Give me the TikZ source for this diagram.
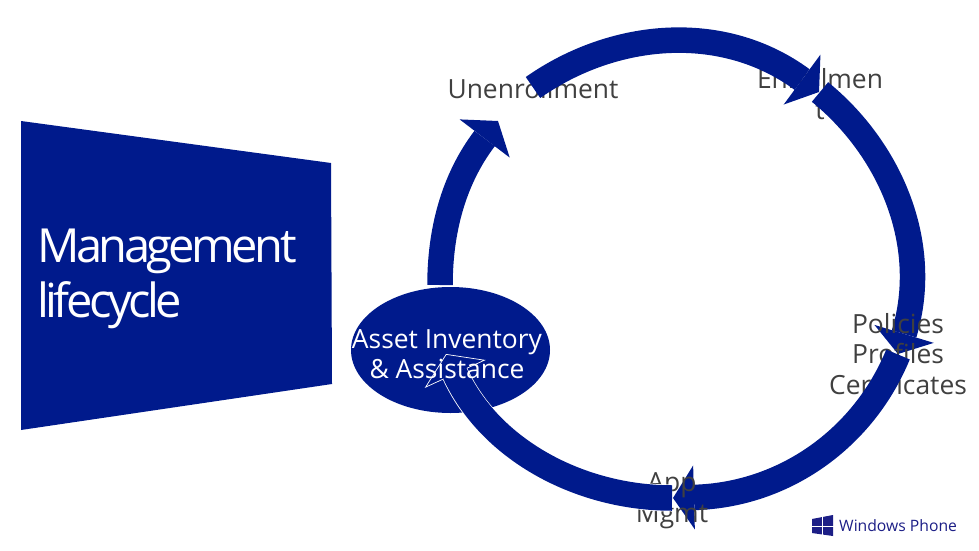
\documentclass[tikz,border=0pt]{standalone}
\usepackage{fontspec}
\setmainfont{Open Sans}
\newfontfamily\titlefont[LetterSpace=-7.5]{Open Sans}
\usetikzlibrary{arrows.meta,shapes.geometric}
\definecolor{navyblock}{HTML}{001A8C}
\definecolor{labelgray}{HTML}{404040}
\definecolor{logoblue}{HTML}{1C1E86}
\tikzset{
  lbl/.style={inner sep=0pt,text=labelgray,font=\fontsize{26.4}{30.5}\selectfont,align=center},
  ringarrow/.style={draw=navyblock,line width=25.5pt,line cap=butt},
}
\newcommand{\ringtip}[2]{-{Triangle[length=#1pt,width=#2pt,color=navyblock,fill=navyblock,line width=0pt]}}
\begin{document}
\begin{tikzpicture}[x=1pt,y=-1pt]
\useasboundingbox (0,0) rectangle (979,551);
% title panel
\fill[navyblock] (21,121) -- (331,163) -- (332,384) -- (21,430) -- cycle;
\node[anchor=west,inner sep=0pt,text=white,align=left,font=\titlefont\fontsize{47}{55}\selectfont] (title) at (37,278.5) {Management\\lifecycle};
% free ends of the ring arrows
\coordinate (e1a) at (533,87.5);
\coordinate (e1b) at (819,92);
\coordinate (e2a) at (820,92);
\coordinate (e2b) at (898,354);
\coordinate (e3a) at (898,354.5);
\coordinate (e3b) at (673,498);
\coordinate (e4a) at (672,498);
\coordinate (e4b) at (446,354);
\coordinate (e5a) at (440,285);
\coordinate (e5b) at (498,121);
% arrow to Unenrollment, and the asset ellipse
\draw[ringarrow,\ringtip{22}{63}] (e5a) .. controls (440,232) and (453,180) .. (e5b);
\node[ellipse,fill=navyblock,minimum width=199pt,minimum height=126pt,inner sep=0pt] (asset) at (450.5,350) {};
% labels and arrows, in stacking order
\node[lbl] (unenroll) at (533,88.5) {Unenrollment};
\node[lbl] (enroll) at (820,94) {Enrollmen\\t};
\draw[ringarrow,\ringtip{21}{62}] (e1a) .. controls (613.5,31) and (722.5,21) .. (e1b);
\draw[ringarrow,\ringtip{21}{62}] (e2a) .. controls (891,150) and (931,245) .. (e2b);
\node[lbl] (policies) at (898,354) {Policies\\Profiles\\Certificates};
\draw[ringarrow,\ringtip{21}{64}] (e3a) .. controls (863.7,438) and (784.6,495) .. (e3b);
\node[lbl] (app) at (672,500.5) {App\\Mgmt};
\draw[draw=white,line width=27pt,-{Triangle[length=22pt,width=67pt,color=white,fill=navyblock,line width=.7pt]}] (e4a) .. controls (580,498) and (490,450) .. (e4b);
\draw[ringarrow,shorten >=21pt] (e4a) .. controls (580,498) and (490,450) .. (e4b);
\node[inner sep=0pt,text=white,align=center,font=\fontsize{26.4}{30.5}\selectfont] (assettext) at (447,354) {Asset Inventory\\\& Assistance};
% logo
\fill[logoblue] (812,519) -- (833,515) -- (833,536) -- (812,533) -- cycle;
\draw[white,line width=.8pt] (822.5,516) -- (822.5,536) (811,526) -- (834,526);
\node[anchor=west,inner sep=0pt,text=logoblue,font=\fontsize{15.7}{20}\selectfont] (wp) at (839,526) {Windows Phone};
\end{tikzpicture}
\end{document}
